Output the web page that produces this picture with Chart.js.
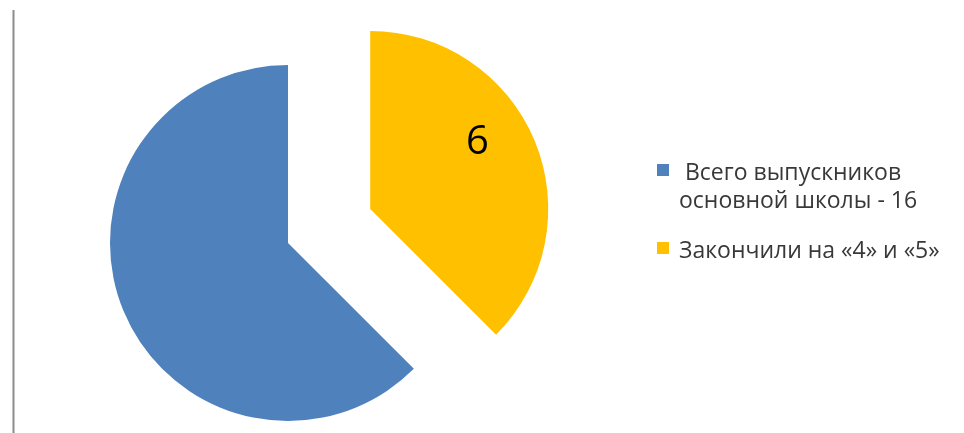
<!DOCTYPE html>
<html>
<head>
<meta charset="utf-8">
<script src="https://cdn.jsdelivr.net/npm/chart.js@4/dist/chart.umd.min.js"></script>
<style>
  html, body { margin: 0; padding: 0; background: #fff; }
  #wrap { width: 964px; height: 433px; position: relative; }
</style>
</head>
<body>
<div id="wrap"><canvas id="pieChart"></canvas></div>
<script>
// data
const labels = [[" Всего выпускников", "основной школы - 16"], "Закончили на «4» и «5»"];
const values = [10, 6];
const shownValues = [null, 6];
const colors = ["#4f81bd", "#ffc000"];
const explode = [0, 89];

/* ---- pull a slice out of the pie without growing its radius ---- */
const explodePlugin = {
  id: "explode",
  afterDatasetsUpdate(chart) {
    const meta = chart.getDatasetMeta(0);
    const area = chart.chartArea;
    const cx = (area.left + area.right) / 2;
    const cy = (area.top + area.bottom) / 2;
    meta.data.forEach((arc, i) => {
      const d = explode[i] || 0;
      const mid = (arc.startAngle + arc.endAngle) / 2;
      arc.x = cx + Math.cos(mid) * d;
      arc.y = cy + Math.sin(mid) * d;
    });
  }
};

/* ---- value label inside the slice ---- */
const valueLabels = {
  id: "valueLabels",
  afterDatasetsDraw(chart) {
    const ctx = chart.ctx;
    const meta = chart.getDatasetMeta(0);
    ctx.save();
    ctx.font = "40px 'Open Sans'";
    ctx.fillStyle = "#000";
    ctx.textAlign = "center";
    ctx.textBaseline = "middle";
    meta.data.forEach((arc, i) => {
      if (shownValues[i] == null) return;
      const a = arc.startAngle + (arc.endAngle - arc.startAngle) * 0.43;
      const r = arc.outerRadius * 0.71;
      ctx.fillText(String(shownValues[i]), arc.x + Math.cos(a) * r, arc.y + Math.sin(a) * r + 1);
    });
    ctx.restore();
  }
};

/* ---- legend on the right + frame line on the left ---- */
const sideLegend = {
  id: "sideLegend",
  beforeDraw(chart) {
    const ctx = chart.ctx;
    ctx.save();
    ctx.strokeStyle = "#8c8c8c";
    ctx.lineWidth = 2;
    ctx.beginPath();
    ctx.moveTo(13.5, 10);
    ctx.lineTo(13.5, 433);
    ctx.stroke();
    ctx.restore();
  },
  afterDraw(chart) {
    const ctx = chart.ctx;
    const baselines = [180, 258];
    ctx.save();
    ctx.font = "23px 'Open Sans'";
    ctx.textBaseline = "alphabetic";
    chart.data.labels.forEach((lab, i) => {
      const lines = Array.isArray(lab) ? lab : [lab];
      const y = baselines[i];
      ctx.fillStyle = chart.data.datasets[0].backgroundColor[i];
      ctx.fillRect(657, y - 16, 12, 12);
      ctx.fillStyle = "#383838";
      lines.forEach((t, k) => ctx.fillText(t, 679, y + k * 28));
    });
    ctx.restore();
  }
};

new Chart(document.getElementById("pieChart"), {
  type: "pie",
  data: {
    labels: labels,
    datasets: [{
      data: values,
      backgroundColor: colors,
      borderWidth: 0,
      radius: 178
    }]
  },
  options: {
    responsive: true,
    maintainAspectRatio: false,
    animation: false,
    rotation: 135,
    layout: { padding: { left: 0, right: 388, top: 53, bottom: 0 } },
    plugins: {
      legend: { display: false },
      tooltip: { enabled: false }
    }
  },
  plugins: [explodePlugin, valueLabels, sideLegend]
});
</script>
</body>
</html>
